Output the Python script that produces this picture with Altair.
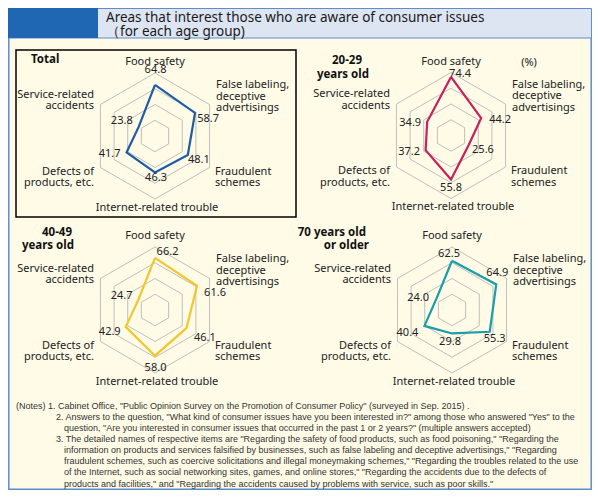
import altair as alt
import pandas as pd
import numpy as np

# ---------------- data ----------------
categories = ["Food safety", "False labeling,\ndeceptive\nadvertisings", "Fraudulent\nschemes",
              "Internet-related trouble", "Defects of\nproducts, etc.", "Service-related\naccidents"]
groups = ["Total", "20-29 years old", "40-49 years old", "70 years old or older"]
total = [64.8, 58.7, 48.1, 46.3, 41.7, 23.8]
age_20_29 = [74.4, 44.2, 25.6, 55.8, 37.2, 34.9]
age_40_49 = [66.2, 61.6, 46.1, 58.0, 42.9, 24.7]
age_70_up = [62.5, 64.9, 55.3, 29.8, 40.4, 24.0]
grid_levels = [20, 40, 60, 80]
panel_titles = [["Total"], ["20-29", "years old"], ["40-49", "years old"], ["70 years old", "or older"]]
title_lines = ["Areas that interest those who are aware of consumer issues", "（for each age group)"]
notes = [
    "(Notes) 1. Cabinet Office, \"Public Opinion Survey on the Promotion of Consumer Policy\" (surveyed in Sep. 2015) .",
    "2. Answers to the question, \"What kind of consumer issues have you been interested in?\" among those who answered \"Yes\" to the",
    "question, \"Are you interested in consumer issues that occurred in the past 1 or 2 years?\" (multiple answers accepted)",
    "3. The detailed names of respective items are \"Regarding the safety of food products, such as food poisoning,\" \"Regarding the",
    "information on products and services falsified by businesses, such as false labeling and deceptive advertisings,\" \"Regarding",
    "fraudulent schemes, such as coercive solicitations and illegal moneymaking schemes,\" \"Regarding the troubles related to the use",
    "of the Internet, such as social networking sites, games, and online stores,\" \"Regarding the accidents due to the defects of",
    "products and facilities,\" and \"Regarding the accidents caused by problems with service, such as poor skills.\"",
]
series = [total, age_20_29, age_40_49, age_70_up]

# ---------------- layout (page pixel coordinates; the page has an 8px margin) ----------------
W, H = 584, 482
X0, Y0 = 8, 8
centers = [(155, 136), (451, 135.5), (155, 310), (452, 310)]
colors = ["#1f5ca6", "#c91f5b", "#f2c72c", "#1a9ea7"]
K = 63 / 80                # px per percentage point
cat_layout = [(0, -71, "center"), (61, -48, "left"), (60, 38.5, "left"),
              (2, 74.5, "center"), (-61, 38.5, "right"), (-61, -38.5, "right")]
# value-label offsets (label centre / baseline) from each polygon vertex, per panel
val_offsets = [
    [(0.5, -11.5), (13, 9), (11, 8), (1, 8.5), (-17, 4.5), (-17, -2.5)],
    [(9, 0), (19, 5), (14.5, 7.5), (0, 11.5), (-16.5, 5), (-17, 4)],
    [(12.5, -3), (18, 10), (18.5, 13), (0.5, 15), (-16, 8), (-16.5, -1)],
    [(-3, -4), (1, -8), (5, 10), (-2, 11.5), (-17, 10), (-17.5, 0.5)],
]
title_pos = [[(31, 63, "left")], [(362, 64, "right"), (369, 78, "right")],
             [(72, 236, "right"), (74, 249, "right")], [(366, 236, "right"), (369, 249, "right")]]
note_x = [16, 56, 64, 56, 64, 64, 64, 64]
note_y0, note_dy = 408.5, 11.15

XS = alt.Scale(domain=[X0, X0 + W], range=[0, W], nice=False, zero=False)
YS = alt.Scale(domain=[Y0 + H, Y0], nice=False, zero=False)
FONT = "Noto Sans"

def X(f="x"):
    return alt.X(f"{f}:Q", scale=XS, axis=None)

def Y(f="y"):
    return alt.Y(f"{f}:Q", scale=YS, axis=None)

# ---------------- background pieces ----------------
def rect(df, **kw):
    return alt.Chart(df).mark_rect(**kw).encode(
        x=X("x"), x2="x2", y=Y("y"), y2="y2")

panel = rect(pd.DataFrame({"x": [8.8], "x2": [591.2], "y": [37], "y2": [489.2]}),
             fill="#fffbe7", stroke="#5f8ccb", strokeWidth=1.5)
banner = rect(pd.DataFrame({"x": [8.5], "x2": [591.5], "y": [8.5], "y2": [38]}),
              fill="#dde5f3", stroke="#5f8ccb", strokeWidth=1)
banner_dark = rect(pd.DataFrame({"x": [8], "x2": [98], "y": [8], "y2": [38]}), fill="#1f66b3")
total_box = rect(pd.DataFrame({"x": [16], "x2": [296], "y": [50], "y2": [217]}),
                 fill="#ffffff", fillOpacity=0, stroke="#000000", strokeWidth=1.5)

# ---------------- grid hexagons ----------------
grid_rows = []
for p, (cx, cy) in enumerate(centers):
    for lv in grid_levels:
        for i in range(7):
            a = np.radians((i % 6) * 60)
            grid_rows.append({"key": f"{p}-{lv}", "o": i,
                              "x": cx + lv * K * np.sin(a), "y": cy - lv * K * np.cos(a)})
grid = alt.Chart(pd.DataFrame(grid_rows)).mark_line(color="#b8b8b8", strokeWidth=0.9).encode(
    x=X(), y=Y(), detail="key:N", order="o:Q")

# ---------------- data polygons & labels ----------------
poly_rows, val_rows, cat_rows, ttl_rows = [], [], [], []
for p, vals in enumerate(series):
    cx, cy = centers[p]
    for i in range(7):
        j = i % 6
        poly_rows.append({"group": groups[p], "o": i, "v": vals[j], "ang": j * 60, "cx": cx, "cy": cy})
    for j in range(6):
        dx, dy = val_offsets[p][j]
        val_rows.append({"group": groups[p], "v": vals[j], "ang": j * 60, "cx": cx, "cy": cy,
                         "dx": dx, "dy": dy, "label": f"{vals[j]:.1f}"})
        cdx, cdy, cal = cat_layout[j]
        cat_rows.append({"x": cx + cdx, "y": cy + cdy, "al": cal, "label": categories[j]})
    for t, (tx, ty, tal) in zip(panel_titles[p], title_pos[p]):
        ttl_rows.append({"x": tx, "y": ty, "al": tal, "label": t})

color_scale = alt.Scale(domain=groups, range=colors)
poly = alt.Chart(pd.DataFrame(poly_rows)).transform_calculate(
    x="datum.cx + datum.v * %f * sin(datum.ang * PI / 180)" % K,
    y="datum.cy - datum.v * %f * cos(datum.ang * PI / 180)" % K,
).mark_line(strokeWidth=2.2, strokeJoin="miter").encode(
    x=X(), y=Y(), detail="group:N", order="o:Q",
    color=alt.Color("group:N", scale=color_scale, legend=None))

vals_text = alt.Chart(pd.DataFrame(val_rows)).transform_calculate(
    x="datum.cx + datum.v * %f * sin(datum.ang * PI / 180) + datum.dx" % K,
    y="datum.cy - datum.v * %f * cos(datum.ang * PI / 180) + datum.dy" % K,
).mark_text(align="center", baseline="alphabetic", font=FONT, fontSize=11, color="#222222").encode(
    x=X(), y=Y(), text="label:N")

cat_df = pd.DataFrame(cat_rows)
def cat_layer(al):
    return alt.Chart(cat_df).transform_filter(f"datum.al == '{al}'").mark_text(
        align=al, baseline="alphabetic", font=FONT, fontSize=11, lineBreak="\n", lineHeight=11.5,
        color="#222222").encode(x=X(), y=Y(), text="label:N")

ttl_df = pd.DataFrame(ttl_rows)
def ttl_layer(al):
    return alt.Chart(ttl_df).transform_filter(f"datum.al == '{al}'").mark_text(
        align=al, baseline="alphabetic", font=FONT, fontSize=11.5, fontWeight="bold",
        color="#111111").encode(x=X(), y=Y(), text="label:N")

pct = alt.Chart(pd.DataFrame({"x": [529], "y": [66], "label": ["(%)"]})).mark_text(
    align="center", baseline="alphabetic", font=FONT, fontSize=11, color="#222222").encode(
    x=X(), y=Y(), text="label:N")

title = alt.Chart(pd.DataFrame({"x": [106, 106], "y": [21.5, 35.5], "label": title_lines})).mark_text(
    align="left", baseline="alphabetic", font=FONT, fontSize=13.5, color="#1a1a1a").encode(
    x=X(), y=Y(), text="label:N")

note_df = pd.DataFrame({"x": note_x, "y": [note_y0 + k * note_dy for k in range(len(notes))],
                        "label": notes})
note_layer = alt.Chart(note_df).mark_text(
    align="left", baseline="alphabetic", font="Liberation Sans", fontSize=9, color="#333333").encode(
    x=X(), y=Y(), text="label:N")

chart = alt.layer(
    panel, banner, banner_dark, total_box, grid, poly, vals_text,
    cat_layer("left"), cat_layer("center"), cat_layer("right"),
    ttl_layer("left"), ttl_layer("right"), pct, title, note_layer,
).properties(width=W, height=H, background="#ffffff", padding=0,
             autosize=alt.AutoSizeParams(type="none")).configure_view(stroke=None)

chart.save("out.html", embed_options={"renderer": "svg", "actions": False})
